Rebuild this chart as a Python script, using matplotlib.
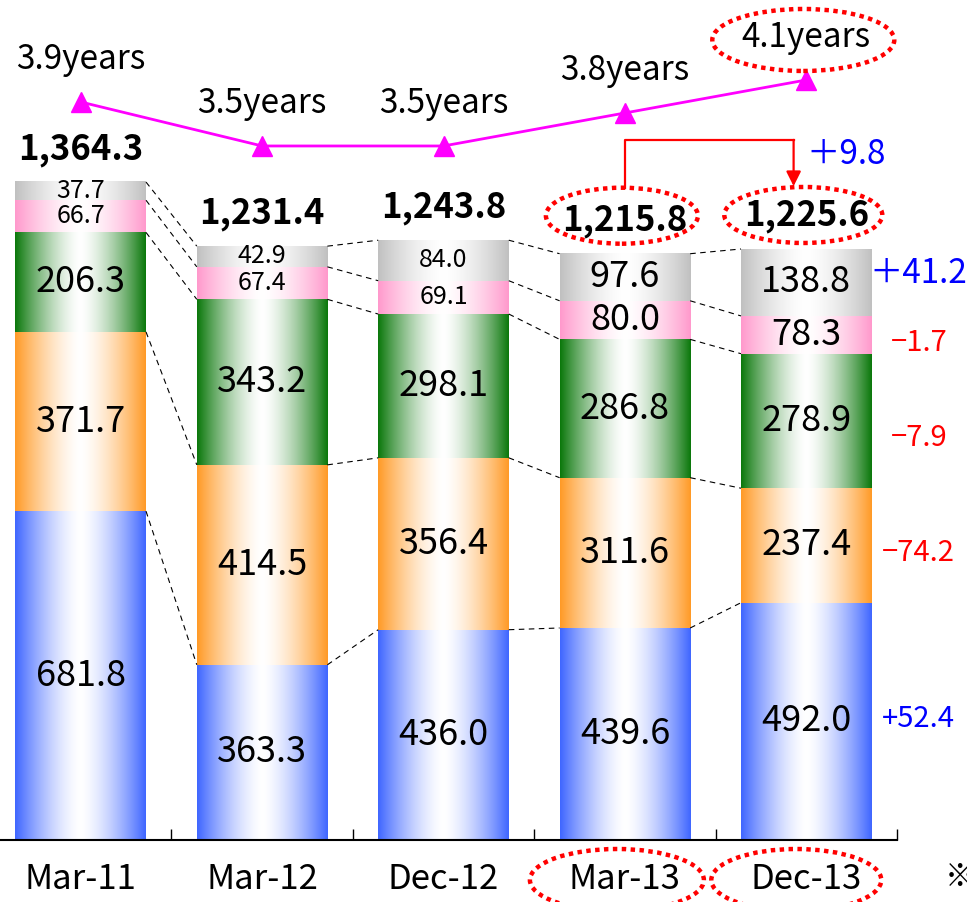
import numpy as np
import matplotlib
matplotlib.use('Agg')
import matplotlib.pyplot as plt
import matplotlib.colors as mcolors
import matplotlib.transforms as mtransforms
from matplotlib.patches import Ellipse

plt.rcParams['font.family'] = ['Noto Sans CJK JP', 'DejaVu Sans']

# ---------------- data ----------------
categories = ['Mar-11', 'Mar-12', 'Dec-12', 'Mar-13', 'Dec-13']
blue = [681.8, 363.3, 436.0, 439.6, 492.0]
orange = [371.7, 414.5, 356.4, 311.6, 237.4]
green = [206.3, 343.2, 298.1, 286.8, 278.9]
pink = [66.7, 67.4, 69.1, 80.0, 78.3]
gray = [37.7, 42.9, 84.0, 97.6, 138.8]
totals = [1364.3, 1231.4, 1243.8, 1215.8, 1225.6]
years = [3.9, 3.5, 3.5, 3.8, 4.1]
year_labels = ['3.9years', '3.5years', '3.5years', '3.8years', '4.1years']
total_change = '＋9.8'
changes = ['+52.4', '−74.2', '−7.9', '−1.7', '＋41.2']   # bottom to top, last bar vs previous

# ---------------- style ----------------
seg_colors = ['#3F66FF', '#FF9A26', '#0B780B', '#FF99CC', '#C0C0C0']
change_colors = ['#0000FF', '#FF0000', '#FF0000', '#FF0000', '#0000FF']
change_sizes = [21, 21, 21, 21, 24]
change_dy_px = [2, -8, -17, -8, 9]
small_label_bars = [0, 1, 2]
bar_w = 0.72
PX_PER_UNIT = 0.4823

fig = plt.figure(figsize=(9.67, 9.02), dpi=100)
ax = fig.add_axes([-10 / 967, 62 / 902, 907 / 967, 840 / 902])
ax.set_facecolor('white')


def grad_img(color, n=256):
    c = np.array(mcolors.to_rgb(color))
    u = np.linspace(0, 1, n)
    t = np.abs(2 * u - 1) ** 1.5
    img = 1 - (1 - c)[None, :] * t[:, None]
    return img[None, :, :]


series = [blue, orange, green, pink, gray]
x = np.arange(len(categories))
cums = []
for i in range(len(categories)):
    bottom = 0.0
    cum = []
    for s_idx, s in enumerate(series):
        v = s[i]
        x0, x1 = i - bar_w / 2, i + bar_w / 2
        ax.imshow(grad_img(seg_colors[s_idx]), extent=[x0, x1, bottom, bottom + v],
                  aspect='auto', interpolation='bilinear', zorder=2)
        small = (s_idx >= 3 and i in small_label_bars)
        ax.text(i, bottom + v / 2, f'{v:.1f}', ha='center', va='center',
                fontsize=18 if small else 26, color='black', zorder=4)
        bottom += v
        cum.append(bottom)
    cums.append(cum)

# dashed connectors
for i in range(len(categories) - 1):
    for k in range(len(series)):
        ax.plot([i + bar_w / 2, i + 1 - bar_w / 2], [cums[i][k], cums[i + 1][k]],
                color='black', lw=0.8, ls=(0, (5, 4)), zorder=3)

# totals
for i, t in enumerate(totals):
    ax.annotate(f'{t:,.1f}', (i, cums[i][-1]), xytext=(0, 33), textcoords='offset pixels',
                ha='center', va='center', fontsize=25, fontweight='bold', zorder=5)

# change labels on right
for k in range(len(series)):
    lo = cums[4][k - 1] if k > 0 else 0
    mid = (lo + cums[4][k]) / 2
    ax.annotate(changes[k], (4.62, mid), xytext=(0, change_dy_px[k]), textcoords='offset pixels',
                ha='center', va='center', fontsize=change_sizes[k], color=change_colors[k],
                annotation_clip=False)

# red arrow from Mar-13 total to Dec-13 total
y_start = totals[3] + 137
y_br = max(totals[3:]) + 225
y_tip = totals[4] + 130
ax.plot([3, 3, 3.93], [y_start, y_br, y_br], color='red', lw=1.6, zorder=5)
ax.annotate('', xy=(3.93, y_tip), xytext=(3.93, y_br + 1),
            arrowprops=dict(arrowstyle='-|>', color='red', lw=1.6, mutation_scale=22,
                            shrinkA=0, shrinkB=0), zorder=5)
ax.text(4.0, y_br - 30, total_change, ha='left', va='center', fontsize=24, color='#0000FF')

# axes styling
ax.set_xlim(-0.5, 4.5)
ax.set_ylim(0, 840 / PX_PER_UNIT)
for sp in ['top', 'left', 'right']:
    ax.spines[sp].set_visible(False)
ax.spines['bottom'].set_linewidth(1.5)
ax.set_yticks([])
ax.set_xticks(x)
ax.set_xticklabels(categories, fontsize=25)
ax.tick_params(axis='x', which='major', length=0, pad=16)
ax.set_xticks(np.arange(0.5, 5, 1), minor=True)
ax.tick_params(axis='x', which='minor', direction='in', length=8, width=1)

# years line on a secondary scale
ax2 = ax.twinx()
ax2.set_ylim(-2.809, 4.827)
ax2.axis('off')
ax2.plot(x, years, color='#FF00FF', lw=2, marker='^', ms=14, zorder=5, clip_on=False)
for i, (yv, lbl) in enumerate(zip(years, year_labels)):
    ax2.annotate(lbl, (i, yv), xytext=(0, 42), textcoords='offset pixels',
                 ha='center', va='center', fontsize=24)


def dotted_ellipse(axis, xd, yd, dx_px, dy_px, w_px, h_px):
    tr = fig.dpi_scale_trans + mtransforms.ScaledTranslation(xd, yd, axis.transData)
    e = Ellipse((dx_px / 100, dy_px / 100), w_px / 100, h_px / 100, transform=tr,
                fill=False, ec='red', lw=3.2, ls=(0, (1, 1)), clip_on=False, zorder=6)
    fig.add_artist(e)


dotted_ellipse(ax2, 4, years[4], -3, 40, 182, 62)
dotted_ellipse(ax, 3, cums[3][-1], -3, 38, 152, 56)
dotted_ellipse(ax, 4, cums[4][-1], -3, 34, 158, 56)
dotted_ellipse(ax, 3, 0, -8, -40, 174, 62)
dotted_ellipse(ax, 4, 0, -10, -40, 170, 62)

fig.text(945 / 967, 1 - 877 / 902, '※', fontsize=22, va='center', ha='left')

fig.savefig('out.png', dpi=100, facecolor='white')
